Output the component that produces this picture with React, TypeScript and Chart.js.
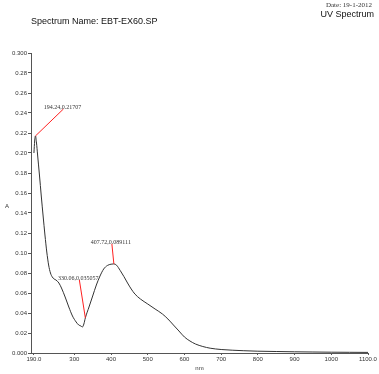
import React, { useEffect, useRef } from "react";
import { Chart, registerables } from "chart.js";

Chart.register(...registerables);

const wavelengths = [190, 192, 194.24, 197, 200, 205, 210, 215, 220, 225, 230, 235, 240, 245, 250, 258, 265, 275, 285, 295, 305, 312, 318, 322, 326, 330.06, 340, 350, 360, 370, 380, 390, 400, 407.72, 415, 425, 435, 445, 455, 465, 480, 500, 520, 540, 555, 570, 585, 600, 615, 630, 650, 670, 700, 730, 760, 800, 850, 900, 950, 1000, 1050, 1100];
const absorbance = [0.200, 0.212, 0.2171, 0.210, 0.198, 0.178, 0.157, 0.137, 0.118, 0.101, 0.088, 0.080, 0.076, 0.074, 0.073, 0.070, 0.065, 0.056, 0.046, 0.037, 0.031, 0.028, 0.027, 0.026, 0.029, 0.0351, 0.046, 0.057, 0.068, 0.077, 0.084, 0.0875, 0.0888, 0.0891, 0.0878, 0.0825, 0.0765, 0.070, 0.064, 0.059, 0.054, 0.049, 0.044, 0.039, 0.034, 0.028, 0.022, 0.016, 0.012, 0.009, 0.0065, 0.0048, 0.0035, 0.0028, 0.0023, 0.0018, 0.0015, 0.0012, 0.0010, 0.0008, 0.0007, 0.0006];

const xTicks = [190, 300, 400, 500, 600, 700, 800, 900, 1000, 1100];
const yTicks = [0, 0.02, 0.04, 0.06, 0.08, 0.1, 0.12, 0.14, 0.16, 0.18, 0.2, 0.22, 0.24, 0.26, 0.28, 0.3];

const peakX = [194.24, 330.06, 407.72];
const peakY = [0.21707, 0.035057, 0.089111];
const peakLabels = ["194.24,0.21707", "330.06,0.035057", "407.72,0.089111"];
const peakOffsets = [[28, -27], [-6, -38], [-2, -20]];

const titleText = "Spectrum Name: EBT-EX60.SP";
const dateText = "Date: 19-1-2012";
const typeText = "UV Spectrum";
const xTitle = "nm";
const yTitle = "A";

const sans = "'Liberation Sans', Arial, sans-serif";
const serif = "'Liberation Serif', 'Times New Roman', serif";

const overlayPlugin = {
  id: "overlay",
  afterDatasetsDraw(chart: any) {
    const ctx = chart.ctx;
    const xs = chart.scales.x;
    const ys = chart.scales.y;
    ctx.save();
    // peak annotations
    for (let i = 0; i < peakX.length; i++) {
      const px = xs.getPixelForValue(peakX[i]);
      const py = ys.getPixelForValue(peakY[i]);
      const ex = px + peakOffsets[i][0];
      const ey = py + peakOffsets[i][1];
      ctx.strokeStyle = "#ff2020";
      ctx.lineWidth = 1;
      ctx.beginPath();
      ctx.moveTo(px, py);
      ctx.lineTo(ex, ey);
      ctx.stroke();
      ctx.fillStyle = "#333";
      ctx.font = "6px " + serif;
      ctx.textAlign = "center";
      ctx.textBaseline = "alphabetic";
      ctx.fillText(peakLabels[i], ex - 1, ey);
    }
    // header texts
    ctx.fillStyle = "#111";
    ctx.textBaseline = "middle";
    ctx.textAlign = "left";
    ctx.font = "9px " + sans;
    ctx.fillText(titleText, 31, 22);
    ctx.textAlign = "right";
    ctx.fillText(typeText, 374, 15);
    ctx.font = "7px " + serif;
    ctx.fillStyle = "#333";
    ctx.fillText(dateText, 372, 5);
    // axis titles
    ctx.font = "6px " + sans;
    ctx.fillStyle = "#333";
    ctx.textAlign = "center";
    ctx.fillText(yTitle, 7, 206);
    ctx.fillText(xTitle, (chart.chartArea.left + chart.chartArea.right) / 2, 368);
    ctx.restore();
  },
};

export default function App() {
  const ref = useRef<HTMLCanvasElement>(null);
  useEffect(() => {
    if (!ref.current) return;
    const chart = new Chart(ref.current, {
      type: "line",
      data: {
        datasets: [
          {
            data: wavelengths.map((w, i) => ({ x: w, y: absorbance[i] })),
            borderColor: "#333",
            borderWidth: 1,
            pointRadius: 0,
            cubicInterpolationMode: "monotone",
            fill: false,
          },
        ],
      },
      options: {
        animation: false,
        responsive: false,
        devicePixelRatio: 1,
        layout: { padding: { top: 53, right: 11, left: 0, bottom: 0 } },
        plugins: { legend: { display: false }, tooltip: { enabled: false }, title: { display: false } },
        scales: {
          x: {
            type: "linear",
            min: 182,
            max: 1100,
            afterBuildTicks: (s: any) => {
              s.ticks = xTicks.map((v) => ({ value: v }));
            },
            afterFit: (s: any) => {
              s.height = 21;
            },
            grid: { display: true, drawOnChartArea: false, drawTicks: true, tickLength: 2, color: "#555" },
            border: { display: true, color: "#555", width: 1 },
            ticks: {
              autoSkip: false,
              maxRotation: 0,
              padding: 1,
              color: "#333",
              font: { family: sans, size: 6 },
              callback: (v: any) => (v === 190 || v === 1100 ? Number(v).toFixed(1) : String(v)),
            },
          },
          y: {
            type: "linear",
            min: 0,
            max: 0.3,
            afterBuildTicks: (s: any) => {
              s.ticks = yTicks.map((v) => ({ value: v }));
            },
            afterFit: (s: any) => {
              s.width = 31;
            },
            grid: { display: true, drawOnChartArea: false, drawTicks: true, tickLength: 3, color: "#555" },
            border: { display: true, color: "#555", width: 1 },
            ticks: {
              autoSkip: false,
              padding: 1,
              color: "#333",
              font: { family: sans, size: 6 },
              callback: (v: any) => (v === 0 || v === 0.3 ? Number(v).toFixed(3) : Number(v).toFixed(2)),
            },
          },
        },
      },
      plugins: [overlayPlugin],
    } as any);
    return () => chart.destroy();
  }, []);
  return (
    <div style={{ position: "absolute", left: 0, top: 0, width: 379, height: 374, background: "#fff" }}>
      <canvas ref={ref} width={379} height={374} style={{ width: 379, height: 374, display: "block" }} />
    </div>
  );
}
